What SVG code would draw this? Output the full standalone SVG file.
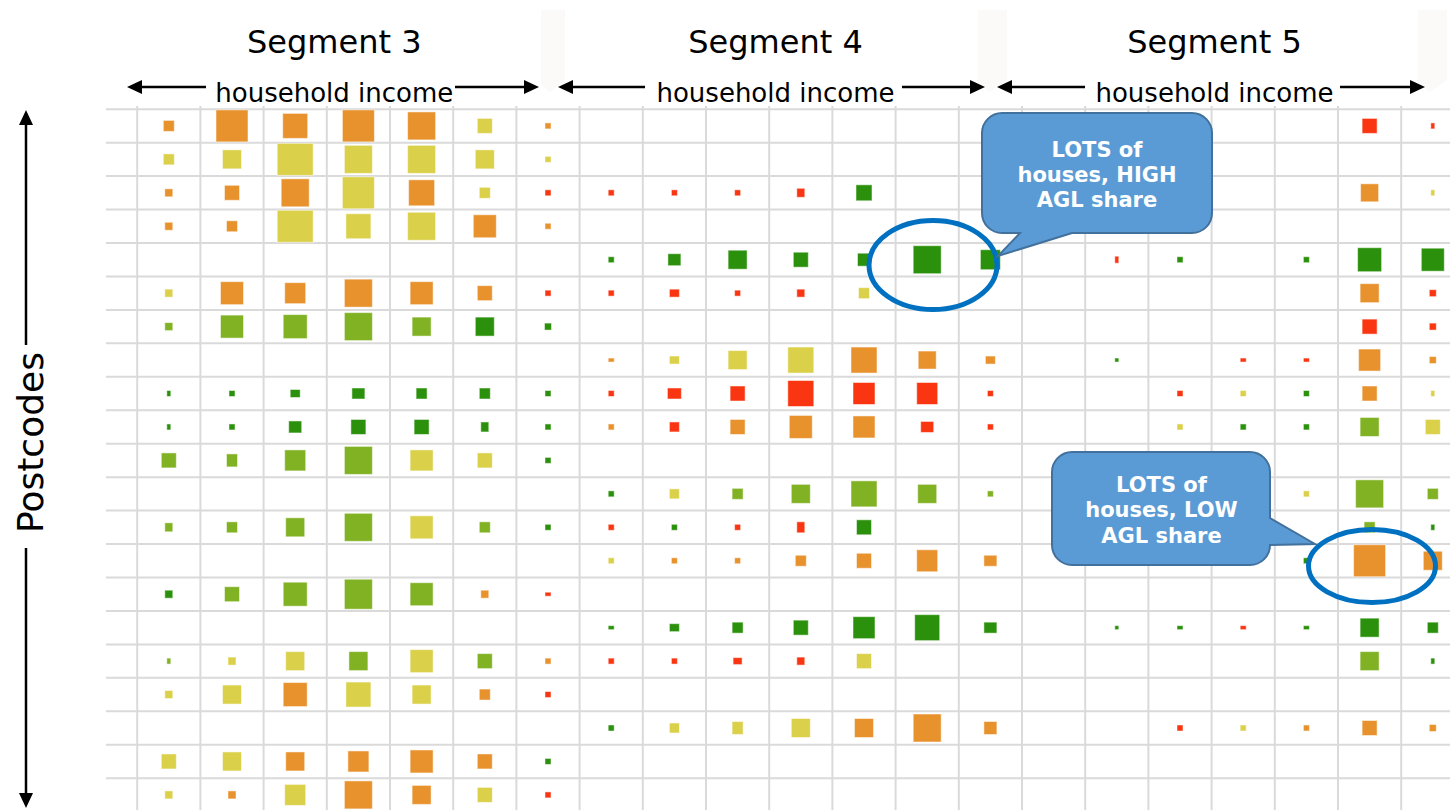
<svg xmlns="http://www.w3.org/2000/svg" width="1450" height="810" viewBox="0 0 1450 810">
  <style>
    .title { font-family: "DejaVu Sans", Verdana, sans-serif; font-size: 32px; fill: #000; text-anchor: middle; }
    .axis { font-family: "DejaVu Sans", Verdana, sans-serif; font-size: 26px; fill: #000; text-anchor: middle; }
    .postcodes { font-family: "DejaVu Sans", Verdana, sans-serif; font-size: 36px; fill: #000; text-anchor: middle; }
    .note { font-family: "DejaVu Sans", Verdana, sans-serif; font-size: 21px; font-weight: bold; fill: #fff; text-anchor: middle; }
    .grid { stroke: #dadada; stroke-width: 2; fill: none; }
    .arrow { stroke: #000; stroke-width: 2.5; fill: none; marker-end: url(#head); }
    .cells rect { stroke: #fff; stroke-opacity: 0.5; stroke-width: 1; }
    .o { fill: #e8922e; }
    .y { fill: #dbd04a; }
    .g { fill: #80b224; }
    .d { fill: #2b910c; }
    .r { fill: #f93611; }
    .callout { fill: #5b9bd5; stroke: #41719c; stroke-width: 2; }
    .ring { fill: none; stroke: #0070c0; stroke-width: 5; }
    .ghost { fill: #fbfaf9; }
  </style>
  <defs>
    <marker id="head" viewBox="0 0 10 10" refX="0" refY="5" markerUnits="userSpaceOnUse" markerWidth="15" markerHeight="14" orient="auto" preserveAspectRatio="none">
      <path d="M0,0 L10,5 L0,10 Z" fill="#000"/>
    </marker>
  </defs>

  <rect width="1450" height="810" fill="#fff"/>

  <!-- faint slide panels behind the headings -->
  <g id="panels">
    <polygon class="ghost" points="541,10 565,10 565,80 550,92 541,84"/>
    <polygon class="ghost" points="978,10 1007,10 1007,80 990,92 978,84"/>
    <polygon class="ghost" points="1418,10 1447,10 1447,80 1430,92 1418,84"/>
  </g>

  <!-- grid -->
  <g id="grid" class="grid">
    <path d="M106,109.2H1450 M106,142.65H1450 M106,176.1H1450 M106,209.55H1450 M106,243H1450 M106,276.45H1450 M106,309.9H1450 M106,343.35H1450 M106,376.8H1450 M106,410.25H1450 M106,443.7H1450 M106,477.15H1450 M106,510.6H1450 M106,544.05H1450 M106,577.5H1450 M106,610.95H1450 M106,644.4H1450 M106,677.85H1450 M106,711.3H1450 M106,744.75H1450 M106,778.2H1450"/>
    <path d="M137.2,106V810 M200.4,106V810 M263.6,106V810 M326.8,106V810 M390,106V810 M453.2,106V810 M516.4,106V810 M579.6,106V810 M642.8,106V810 M706,106V810 M769.2,106V810 M832.4,106V810 M895.6,106V810 M958.8,106V810 M1022,106V810 M1085.2,106V810 M1148.4,106V810 M1211.6,106V810 M1274.8,106V810 M1338,106V810 M1401.2,106V810"/>
  </g>

  <!-- Segment 3 cells -->
  <g id="segment-3" class="cells">
    <g transform="translate(0 125.9)">
      <rect class="o" x="163.3" y="-5.5" width="11" height="11"/>
      <rect class="o" x="216" y="-16" width="32" height="32"/>
      <rect class="o" x="282.7" y="-12.5" width="25" height="25"/>
      <rect class="o" x="342.4" y="-16" width="32" height="32"/>
      <rect class="o" x="407.6" y="-14" width="28" height="28"/>
      <rect class="y" x="477.3" y="-7.5" width="15" height="15"/>
      <rect class="o" x="545" y="-3" width="6" height="6"/>
    </g>
    <g transform="translate(0 159.35)">
      <rect class="y" x="163.3" y="-5.5" width="11" height="11"/>
      <rect class="y" x="222.5" y="-9.5" width="19" height="19"/>
      <rect class="y" x="277.2" y="-16" width="36" height="32"/>
      <rect class="y" x="344.4" y="-14" width="28" height="28"/>
      <rect class="y" x="407.6" y="-14" width="28" height="28"/>
      <rect class="y" x="475.3" y="-9.5" width="19" height="19"/>
      <rect class="y" x="545" y="-3" width="6" height="6"/>
    </g>
    <g transform="translate(0 192.8)">
      <rect class="o" x="164.8" y="-4" width="8" height="8"/>
      <rect class="o" x="224.5" y="-7.5" width="15" height="15"/>
      <rect class="o" x="281.2" y="-14" width="28" height="28"/>
      <rect class="y" x="342.4" y="-16" width="32" height="32"/>
      <rect class="o" x="408.6" y="-13" width="26" height="26"/>
      <rect class="y" x="479.3" y="-5.5" width="11" height="11"/>
      <rect class="r" x="545" y="-3" width="6" height="6"/>
    </g>
    <g transform="translate(0 226.25)">
      <rect class="o" x="164.8" y="-4" width="8" height="8"/>
      <rect class="o" x="226.5" y="-5.5" width="11" height="11"/>
      <rect class="y" x="277.2" y="-16" width="36" height="32"/>
      <rect class="y" x="345.9" y="-12.5" width="25" height="25"/>
      <rect class="y" x="407.6" y="-14" width="28" height="28"/>
      <rect class="o" x="473.3" y="-11.5" width="23" height="23"/>
      <rect class="o" x="545" y="-3" width="6" height="6"/>
    </g>
    <g transform="translate(0 293.15)">
      <rect class="y" x="164.8" y="-4" width="8" height="8"/>
      <rect class="o" x="220.5" y="-11.5" width="23" height="23"/>
      <rect class="o" x="284.7" y="-10.5" width="21" height="21"/>
      <rect class="o" x="344.4" y="-14" width="28" height="28"/>
      <rect class="o" x="410.1" y="-11.5" width="23" height="23"/>
      <rect class="o" x="477.3" y="-7.5" width="15" height="15"/>
      <rect class="r" x="545" y="-3" width="6" height="6"/>
    </g>
    <g transform="translate(0 326.6)">
      <rect class="g" x="164.8" y="-4" width="8" height="8"/>
      <rect class="g" x="220.5" y="-11.5" width="23" height="23"/>
      <rect class="g" x="283.2" y="-12" width="24" height="24"/>
      <rect class="g" x="344.4" y="-14" width="28" height="28"/>
      <rect class="g" x="412.1" y="-9.5" width="19" height="19"/>
      <rect class="d" x="475.3" y="-9.5" width="19" height="19"/>
      <rect class="d" x="544.5" y="-3.5" width="7" height="7"/>
    </g>
    <g transform="translate(0 393.5)">
      <rect class="d" x="166.8" y="-3" width="4" height="6"/>
      <rect class="d" x="229" y="-3" width="6" height="6"/>
      <rect class="d" x="290.2" y="-4" width="10" height="8"/>
      <rect class="d" x="351.9" y="-5.5" width="13" height="11"/>
      <rect class="d" x="416.1" y="-5.5" width="11" height="11"/>
      <rect class="d" x="479.3" y="-5.5" width="11" height="11"/>
      <rect class="d" x="545" y="-3" width="6" height="6"/>
    </g>
    <g transform="translate(0 426.95)">
      <rect class="d" x="166.8" y="-3" width="4" height="6"/>
      <rect class="d" x="229" y="-3" width="6" height="6"/>
      <rect class="d" x="288.7" y="-6" width="13" height="12"/>
      <rect class="d" x="350.9" y="-7.5" width="15" height="15"/>
      <rect class="d" x="414.1" y="-7.5" width="15" height="15"/>
      <rect class="d" x="480.8" y="-5" width="8" height="10"/>
      <rect class="d" x="545" y="-3" width="6" height="6"/>
    </g>
    <g transform="translate(0 460.4)">
      <rect class="g" x="161.3" y="-7.5" width="15" height="15"/>
      <rect class="g" x="226.5" y="-6.5" width="11" height="13"/>
      <rect class="g" x="284.7" y="-10.5" width="21" height="21"/>
      <rect class="g" x="344.4" y="-14" width="28" height="28"/>
      <rect class="y" x="410.1" y="-10.5" width="23" height="21"/>
      <rect class="y" x="477.3" y="-7.5" width="15" height="15"/>
      <rect class="d" x="545" y="-3" width="6" height="6"/>
    </g>
    <g transform="translate(0 527.3)">
      <rect class="g" x="164.8" y="-4.5" width="8" height="9"/>
      <rect class="g" x="226.5" y="-5.5" width="11" height="11"/>
      <rect class="g" x="285.7" y="-9.5" width="19" height="19"/>
      <rect class="g" x="344.4" y="-14" width="28" height="28"/>
      <rect class="y" x="410.1" y="-11.5" width="23" height="23"/>
      <rect class="g" x="479.3" y="-5.5" width="11" height="11"/>
      <rect class="d" x="545" y="-3" width="6" height="6"/>
    </g>
    <g transform="translate(0 594.2)">
      <rect class="d" x="164.8" y="-4" width="8" height="8"/>
      <rect class="g" x="224.5" y="-7.5" width="15" height="15"/>
      <rect class="g" x="283.2" y="-12" width="24" height="24"/>
      <rect class="g" x="344.4" y="-15" width="28" height="30"/>
      <rect class="g" x="410.1" y="-11.5" width="23" height="23"/>
      <rect class="o" x="480.8" y="-4" width="8" height="8"/>
      <rect class="r" x="545" y="-2" width="6" height="4"/>
    </g>
    <g transform="translate(0 661.1)">
      <rect class="g" x="166.8" y="-3" width="4" height="6"/>
      <rect class="y" x="228" y="-4" width="8" height="8"/>
      <rect class="y" x="285.7" y="-9.5" width="19" height="19"/>
      <rect class="g" x="348.9" y="-9.5" width="19" height="19"/>
      <rect class="y" x="410.1" y="-11.5" width="23" height="23"/>
      <rect class="g" x="477.3" y="-7.5" width="15" height="15"/>
      <rect class="o" x="545" y="-3" width="6" height="6"/>
    </g>
    <g transform="translate(0 694.55)">
      <rect class="y" x="164.8" y="-4" width="8" height="8"/>
      <rect class="y" x="222.5" y="-9.5" width="19" height="19"/>
      <rect class="o" x="283.2" y="-12" width="24" height="24"/>
      <rect class="y" x="345.9" y="-12.5" width="25" height="25"/>
      <rect class="y" x="412.1" y="-9.5" width="19" height="19"/>
      <rect class="o" x="479.3" y="-5.5" width="11" height="11"/>
      <rect class="r" x="545" y="-3" width="6" height="6"/>
    </g>
    <g transform="translate(0 761.45)">
      <rect class="y" x="161.3" y="-7.5" width="15" height="15"/>
      <rect class="y" x="222.5" y="-9.5" width="19" height="19"/>
      <rect class="o" x="285.7" y="-9.5" width="19" height="19"/>
      <rect class="o" x="347.9" y="-10.5" width="21" height="21"/>
      <rect class="o" x="410.1" y="-11.5" width="23" height="23"/>
      <rect class="o" x="477.3" y="-7.5" width="15" height="15"/>
      <rect class="d" x="545" y="-3" width="6" height="6"/>
    </g>
    <g transform="translate(0 794.9)">
      <rect class="y" x="164.8" y="-4" width="8" height="8"/>
      <rect class="o" x="228" y="-4" width="8" height="8"/>
      <rect class="y" x="284.7" y="-10.5" width="21" height="21"/>
      <rect class="o" x="344.4" y="-14" width="28" height="28"/>
      <rect class="o" x="412.1" y="-9.5" width="19" height="19"/>
      <rect class="y" x="477.3" y="-7.5" width="15" height="15"/>
      <rect class="r" x="545" y="-3" width="6" height="6"/>
    </g>
  </g>

  <!-- Segment 4 cells -->
  <g id="segment-4" class="cells">
    <g transform="translate(0 192.8)">
      <rect class="r" x="608.2" y="-3" width="6" height="6"/>
      <rect class="r" x="671.4" y="-3" width="6" height="6"/>
      <rect class="r" x="734.6" y="-3" width="6" height="6"/>
      <rect class="r" x="796.8" y="-4.5" width="8" height="9"/>
      <rect class="d" x="856" y="-8" width="16" height="16"/>
    </g>
    <g transform="translate(0 259.7)">
      <rect class="d" x="608.2" y="-3" width="6" height="6"/>
      <rect class="d" x="667.9" y="-6" width="13" height="12"/>
      <rect class="d" x="728.1" y="-9.5" width="19" height="19"/>
      <rect class="d" x="793.3" y="-7.5" width="15" height="15"/>
      <rect class="d" x="857.5" y="-6.5" width="13" height="13"/>
      <rect class="d" x="913.2" y="-14" width="28" height="28"/>
      <rect class="d" x="980.4" y="-10" width="20" height="20"/>
    </g>
    <g transform="translate(0 293.15)">
      <rect class="r" x="608.2" y="-3" width="6" height="6"/>
      <rect class="r" x="669.4" y="-4" width="10" height="8"/>
      <rect class="r" x="734.6" y="-3" width="6" height="6"/>
      <rect class="r" x="796.8" y="-4" width="8" height="8"/>
      <rect class="y" x="858.5" y="-5.5" width="11" height="11"/>
    </g>
    <g transform="translate(0 360.05)">
      <rect class="o" x="608.2" y="-2" width="6" height="4"/>
      <rect class="y" x="669.4" y="-4" width="10" height="8"/>
      <rect class="y" x="728.1" y="-9.5" width="19" height="19"/>
      <rect class="y" x="787.8" y="-13" width="26" height="26"/>
      <rect class="o" x="851" y="-13" width="26" height="26"/>
      <rect class="o" x="918.2" y="-9" width="18" height="18"/>
      <rect class="o" x="985.4" y="-4" width="10" height="8"/>
    </g>
    <g transform="translate(0 393.5)">
      <rect class="r" x="608.2" y="-3" width="6" height="6"/>
      <rect class="r" x="667.4" y="-5.5" width="14" height="11"/>
      <rect class="r" x="730.1" y="-7.5" width="15" height="15"/>
      <rect class="r" x="787.8" y="-13" width="26" height="26"/>
      <rect class="r" x="853" y="-11" width="22" height="22"/>
      <rect class="r" x="916.7" y="-11" width="21" height="22"/>
      <rect class="r" x="987.4" y="-3" width="6" height="6"/>
    </g>
    <g transform="translate(0 426.95)">
      <rect class="o" x="608.2" y="-3" width="6" height="6"/>
      <rect class="r" x="669.4" y="-5" width="10" height="10"/>
      <rect class="o" x="730.1" y="-7.5" width="15" height="15"/>
      <rect class="o" x="789.3" y="-11.5" width="23" height="23"/>
      <rect class="o" x="853" y="-11" width="22" height="22"/>
      <rect class="r" x="920.7" y="-5.5" width="13" height="11"/>
      <rect class="r" x="987.4" y="-3" width="6" height="6"/>
    </g>
    <g transform="translate(0 493.85)">
      <rect class="d" x="608.2" y="-3" width="6" height="6"/>
      <rect class="y" x="669.4" y="-5" width="10" height="10"/>
      <rect class="g" x="732.1" y="-5.5" width="11" height="11"/>
      <rect class="g" x="791.3" y="-9.5" width="19" height="19"/>
      <rect class="g" x="851" y="-13" width="26" height="26"/>
      <rect class="g" x="917.7" y="-9.5" width="19" height="19"/>
      <rect class="g" x="987.4" y="-3" width="6" height="6"/>
    </g>
    <g transform="translate(0 527.3)">
      <rect class="r" x="608.2" y="-3" width="6" height="6"/>
      <rect class="d" x="671.4" y="-3" width="6" height="6"/>
      <rect class="r" x="734.6" y="-3" width="6" height="6"/>
      <rect class="r" x="796.8" y="-5.5" width="8" height="11"/>
      <rect class="d" x="856.5" y="-7.5" width="15" height="15"/>
    </g>
    <g transform="translate(0 560.75)">
      <rect class="y" x="608.2" y="-3" width="6" height="6"/>
      <rect class="o" x="671.4" y="-3" width="6" height="6"/>
      <rect class="o" x="734.6" y="-3" width="6" height="6"/>
      <rect class="o" x="795.3" y="-5.5" width="11" height="11"/>
      <rect class="o" x="856.5" y="-7.5" width="15" height="15"/>
      <rect class="o" x="916.7" y="-11" width="21" height="22"/>
      <rect class="o" x="983.9" y="-5.5" width="13" height="11"/>
    </g>
    <g transform="translate(0 627.65)">
      <rect class="d" x="608.2" y="-2" width="6" height="4"/>
      <rect class="d" x="669.4" y="-4" width="10" height="8"/>
      <rect class="d" x="732.1" y="-5.5" width="11" height="11"/>
      <rect class="d" x="793.3" y="-7.5" width="15" height="15"/>
      <rect class="d" x="853" y="-11" width="22" height="22"/>
      <rect class="d" x="914.7" y="-13" width="25" height="26"/>
      <rect class="d" x="983.9" y="-5.5" width="13" height="11"/>
    </g>
    <g transform="translate(0 661.1)">
      <rect class="r" x="608.2" y="-3" width="6" height="6"/>
      <rect class="r" x="671.4" y="-3" width="6" height="6"/>
      <rect class="r" x="733.1" y="-3.5" width="9" height="7"/>
      <rect class="r" x="796.8" y="-4" width="8" height="8"/>
      <rect class="y" x="856.5" y="-7.5" width="15" height="15"/>
    </g>
    <g transform="translate(0 728)">
      <rect class="d" x="608.2" y="-3" width="6" height="6"/>
      <rect class="y" x="669.4" y="-5" width="10" height="10"/>
      <rect class="y" x="732.1" y="-6.5" width="11" height="13"/>
      <rect class="y" x="791.3" y="-9.5" width="19" height="19"/>
      <rect class="o" x="854.5" y="-9.5" width="19" height="19"/>
      <rect class="o" x="913.2" y="-14" width="28" height="28"/>
      <rect class="o" x="983.9" y="-6.5" width="13" height="13"/>
    </g>
  </g>

  <!-- Segment 5 cells -->
  <g id="segment-5" class="cells">
    <g transform="translate(0 125.9)">
      <rect class="r" x="1362.1" y="-7.5" width="15" height="15"/>
      <rect class="r" x="1430.8" y="-3" width="4" height="6"/>
    </g>
    <g transform="translate(0 192.8)">
      <rect class="o" x="1360.6" y="-9" width="18" height="18"/>
      <rect class="y" x="1430.8" y="-3" width="4" height="6"/>
    </g>
    <g transform="translate(0 259.7)">
      <rect class="r" x="1114.8" y="-3.5" width="4" height="7"/>
      <rect class="d" x="1177" y="-3" width="6" height="6"/>
      <rect class="d" x="1303.4" y="-3" width="6" height="6"/>
      <rect class="d" x="1357.6" y="-12" width="24" height="24"/>
      <rect class="d" x="1421.3" y="-11.5" width="23" height="23"/>
    </g>
    <g transform="translate(0 293.15)">
      <rect class="o" x="1360.1" y="-9.5" width="19" height="19"/>
      <rect class="r" x="1429.3" y="-3.5" width="7" height="7"/>
    </g>
    <g transform="translate(0 326.6)">
      <rect class="r" x="1362.1" y="-7.5" width="15" height="15"/>
      <rect class="r" x="1429.3" y="-3.5" width="7" height="7"/>
    </g>
    <g transform="translate(0 360.05)">
      <rect class="d" x="1114.8" y="-2" width="4" height="4"/>
      <rect class="r" x="1240.2" y="-2" width="6" height="4"/>
      <rect class="r" x="1303.4" y="-2" width="6" height="4"/>
      <rect class="o" x="1358.6" y="-11" width="22" height="22"/>
      <rect class="o" x="1429.3" y="-3.5" width="7" height="7"/>
    </g>
    <g transform="translate(0 393.5)">
      <rect class="r" x="1177" y="-3" width="6" height="6"/>
      <rect class="y" x="1240.2" y="-3" width="6" height="6"/>
      <rect class="d" x="1303.4" y="-3" width="6" height="6"/>
      <rect class="o" x="1362.1" y="-7.5" width="15" height="15"/>
      <rect class="y" x="1430.8" y="-3" width="4" height="6"/>
    </g>
    <g transform="translate(0 426.95)">
      <rect class="y" x="1177" y="-3" width="6" height="6"/>
      <rect class="d" x="1240.2" y="-3" width="6" height="6"/>
      <rect class="d" x="1303.4" y="-3" width="6" height="6"/>
      <rect class="g" x="1360.1" y="-9.5" width="19" height="19"/>
      <rect class="y" x="1425.3" y="-7.5" width="15" height="15"/>
    </g>
    <g transform="translate(0 493.85)">
      <rect class="y" x="1303.4" y="-3" width="6" height="6"/>
      <rect class="g" x="1355.6" y="-14" width="28" height="28"/>
      <rect class="g" x="1427.3" y="-5.5" width="11" height="11"/>
    </g>
    <g transform="translate(0 527.3)">
      <rect class="g" x="1364.1" y="-5.5" width="11" height="11"/>
      <rect class="d" x="1430.8" y="-3" width="4" height="6"/>
    </g>
    <g transform="translate(0 560.75)">
      <rect class="d" x="1303.4" y="-3" width="6" height="6"/>
      <rect class="o" x="1353.6" y="-16" width="32" height="32"/>
      <rect class="o" x="1423.3" y="-9.5" width="19" height="19"/>
    </g>
    <g transform="translate(0 627.65)">
      <rect class="d" x="1114.8" y="-2" width="4" height="4"/>
      <rect class="d" x="1177" y="-2" width="6" height="4"/>
      <rect class="r" x="1240.2" y="-2" width="6" height="4"/>
      <rect class="d" x="1303.4" y="-2" width="6" height="4"/>
      <rect class="d" x="1360.1" y="-9.5" width="19" height="19"/>
      <rect class="d" x="1427.3" y="-5.5" width="11" height="11"/>
    </g>
    <g transform="translate(0 661.1)">
      <rect class="g" x="1360.1" y="-9.5" width="19" height="19"/>
      <rect class="d" x="1430.8" y="-3" width="4" height="6"/>
    </g>
    <g transform="translate(0 728)">
      <rect class="r" x="1177" y="-3" width="6" height="6"/>
      <rect class="y" x="1240.2" y="-3" width="6" height="6"/>
      <rect class="o" x="1303.4" y="-3" width="6" height="6"/>
      <rect class="o" x="1362.1" y="-7.5" width="15" height="15"/>
      <rect class="o" x="1429.3" y="-3.5" width="7" height="7"/>
    </g>
  </g>

  <!-- headings -->
  <g id="headings">
    <text class="title" x="334.3" y="53">Segment 3</text>
    <text class="title" x="775.5" y="53">Segment 4</text>
    <text class="title" x="1214.5" y="53">Segment 5</text>
    <text class="axis" x="334.3" y="101.5">household income</text>
    <text class="axis" x="775.5" y="101.5">household income</text>
    <text class="axis" x="1214.5" y="101.5">household income</text>
    <text class="postcodes" transform="translate(42.5 442.5) rotate(-90)">Postcodes</text>
  </g>

  <!-- axis arrows -->
  <g id="connectors">
    <line class="arrow" x1="206" y1="87" x2="142" y2="87"/>
    <line class="arrow" x1="455" y1="87" x2="524" y2="87"/>
    <line class="arrow" x1="645" y1="87" x2="573" y2="87"/>
    <line class="arrow" x1="902" y1="87" x2="970" y2="87"/>
    <line class="arrow" x1="1085" y1="87" x2="1012" y2="87"/>
    <line class="arrow" x1="1340" y1="87" x2="1410" y2="87"/>
    <line class="arrow" x1="26" y1="345" x2="26" y2="125"/>
    <line class="arrow" x1="26" y1="548" x2="26" y2="793"/>
  </g>

  <!-- highlight rings -->
  <g id="ring-high">
    <ellipse class="ring" cx="933" cy="265" rx="64" ry="44.5"/>
  </g>
  <g id="ring-low">
    <ellipse class="ring" cx="1372" cy="566" rx="63.5" ry="36.5"/>
  </g>

  <!-- callouts -->
  <g id="callout-high">
    <path class="callout" d="M1002,113 H1192 A20,20 0 0 1 1212,133 V213 A20,20 0 0 1 1192,233 H1072 L998,256 L1020,233 H1002 A20,20 0 0 1 982,213 V133 A20,20 0 0 1 1002,113 Z"/>
    <text class="note" x="1097" y="157">LOTS of</text>
    <text class="note" x="1097" y="182">houses, HIGH</text>
    <text class="note" x="1097" y="207">AGL share</text>
  </g>
  <g id="callout-low">
    <path class="callout" d="M1072,452 H1250 A20,20 0 0 1 1270,472 V518 L1315,544 L1270,545 A20,20 0 0 1 1250,565 H1072 A20,20 0 0 1 1052,545 V472 A20,20 0 0 1 1072,452 Z"/>
    <text class="note" x="1161.5" y="492">LOTS of</text>
    <text class="note" x="1161.5" y="517">houses, LOW</text>
    <text class="note" x="1161.5" y="543">AGL share</text>
  </g>
</svg>
